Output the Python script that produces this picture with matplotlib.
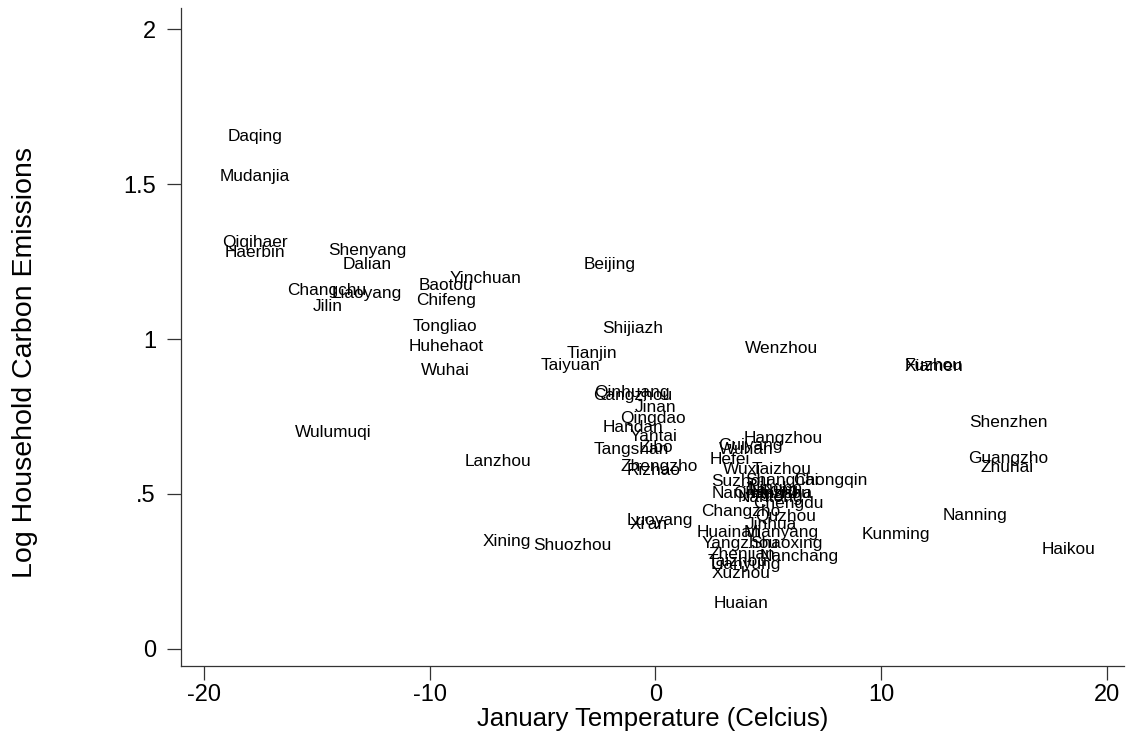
import matplotlib
matplotlib.use("Agg")
import matplotlib.pyplot as plt

plt.rcParams['font.family'] = ['Liberation Sans', 'DejaVu Sans']

cities = ["Daqing", "Mudanjia", "Qiqihaer", "Haerbin", "Shenyang", "Dalian",
          "Changchu", "Liaoyang", "Jilin", "Baotou", "Yinchuan", "Chifeng",
          "Tongliao", "Huhehaot", "Wuhai", "Beijing", "Shijiazh", "Tianjin",
          "Taiyuan", "Qinhuang", "Cangzhou", "Jinan", "Qingdao", "Handan",
          "Yantai", "Zibo", "Tangshan", "Zhengzho", "Rizhao", "Hangzhou",
          "Guiyang", "Wuhan", "Hefei", "Wuxi", "Taizhou", "Suzhou",
          "Shanghai", "Chongqin", "Nanjing", "Changsha", "Ningbo", "Jiaxing",
          "Huzhou", "Nantong", "Chengdu", "Changzho", "Quzhou", "Jinhua",
          "Huainan", "Mianyang", "Yangzhou", "Shaoxing", "Zhenjian", "Nanchang",
          "Taizhou", "Lianyung", "Xuzhou", "Huaian", "Luoyang", "Xi'an",
          "Shuozhou", "Xining", "Lanzhou", "Wulumuqi", "Wenzhou", "Fuzhou",
          "Xiamen", "Shenzhen", "Guangzho", "Zhuhai", "Nanning", "Kunming",
          "Haikou"]

jan_temp = [-18.95, -19.30, -19.20, -19.08, -14.50, -13.85,
            -16.32, -14.35, -15.20, -10.50, -9.11, -10.62,
            -10.76, -10.96, -10.40, -3.17, -2.36, -3.94,
            -5.08, -2.72, -2.75, -0.91, -1.57, -2.36,
            -1.13, -0.69, -2.76, -1.57, -1.28, 3.92,
            2.78, 2.80, 2.38, 2.98, 4.26, 2.49,
            4.00, 6.11, 2.49, 3.44, 4.10, 3.97,
            4.28, 3.66, 4.34, 2.02, 4.41, 4.00,
            1.83, 3.92, 2.04, 4.19, 2.34, 4.63,
            2.33, 2.46, 2.49, 2.56, -1.28, -1.13,
            -5.44, -7.68, -8.47, -15.98, 3.97, 11.03,
            11.03, 13.91, 13.84, 14.43, 12.71, 9.14,
            17.12]

log_carbon = [1.652, 1.523, 1.311, 1.278, 1.287, 1.242,
              1.155, 1.147, 1.104, 1.173, 1.194, 1.124,
              1.040, 0.975, 0.898, 1.242, 1.035, 0.952,
              0.916, 0.827, 0.819, 0.778, 0.742, 0.715,
              0.685, 0.651, 0.642, 0.590, 0.577, 0.680,
              0.655, 0.644, 0.612, 0.580, 0.580, 0.540,
              0.542, 0.545, 0.500, 0.503, 0.519, 0.510,
              0.500, 0.490, 0.468, 0.443, 0.427, 0.400,
              0.375, 0.375, 0.341, 0.341, 0.305, 0.298,
              0.281, 0.271, 0.242, 0.147, 0.416, 0.403,
              0.334, 0.346, 0.606, 0.697, 0.971, 0.916,
              0.911, 0.731, 0.613, 0.585, 0.429, 0.368,
              0.322]

x_ticks = [-20, -10, 0, 10, 20]
x_tick_labels = ["-20", "-10", "0", "10", "20"]
y_ticks = [0, 0.5, 1, 1.5, 2]
y_tick_labels = ["0", ".5", "1", "1.5", "2"]

fig = plt.figure(figsize=(11.26, 7.38), dpi=100)
ax = fig.add_axes([181/1126, (738-666)/738, (1124-181)/1126, (666-8)/738])

ax.scatter(jan_temp, log_carbon, s=0, alpha=0)
for name, xv, yv in zip(cities, jan_temp, log_carbon):
    ax.text(xv, yv, name, fontsize=12.4, ha='left', va='center', color='black')

ax.set_xlim(-21.03, 20.77)
ax.set_ylim(-0.055, 2.068)
ax.set_xticks(x_ticks)
ax.set_xticklabels(x_tick_labels)
ax.set_yticks(y_ticks)
ax.set_yticklabels(y_tick_labels)

for s in ['top', 'right']:
    ax.spines[s].set_visible(False)
for s in ['left', 'bottom']:
    ax.spines[s].set_linewidth(0.9)
    ax.spines[s].set_color('#333333')

ax.tick_params(axis='both', direction='out', length=10, width=0.9,
               color='#333333', labelsize=17)
ax.tick_params(axis='y', pad=8)
ax.tick_params(axis='x', pad=3)

ax.set_xlabel("January Temperature (Celcius)", fontsize=18.5)
ax.set_ylabel("Log Household Carbon Emissions", fontsize=20.5)
ax.xaxis.set_label_coords(0.5005, -0.062)
ax.yaxis.set_label_coords(-0.152, 0.461)

fig.savefig("out.png", dpi=100)
